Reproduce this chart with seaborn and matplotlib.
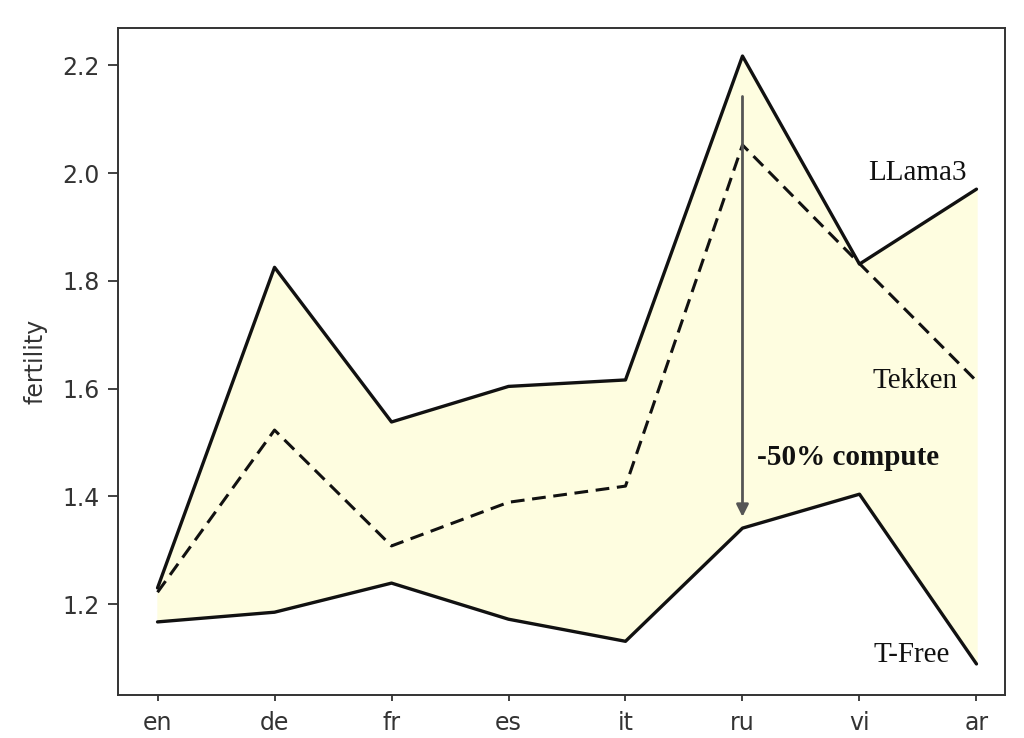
import numpy as np
import pandas as pd
import matplotlib
matplotlib.use("Agg")
import matplotlib.pyplot as plt
import seaborn as sns

languages = ["en", "de", "fr", "es", "it", "ru", "vi", "ar"]
llama3 = [1.230, 1.825, 1.538, 1.604, 1.616, 2.217, 1.831, 1.970]
tekken = [1.222, 1.523, 1.308, 1.389, 1.419, 2.052, 1.832, 1.614]
tfree = [1.167, 1.185, 1.239, 1.172, 1.131, 1.341, 1.404, 1.089]

sns.set_style("ticks")
plt.rcParams["font.family"] = ["DejaVu Sans"]

x = np.arange(len(languages))
df = pd.DataFrame({"x": x, "LLama3": llama3, "Tekken": tekken, "T-Free": tfree})

fig = plt.figure(figsize=(10.24, 7.38), dpi=100)
ax = fig.add_axes([0.115, 0.058, 0.866, 0.904])

#---------shaded band between the two solid curves
ax.fill_between(x, df["T-Free"], df["LLama3"], color="#fefde0", zorder=1)

sns.lineplot(data=df, x="x", y="LLama3", color="#111111", lw=2.4, ax=ax, zorder=3)
sns.lineplot(data=df, x="x", y="T-Free", color="#111111", lw=2.4, ax=ax, zorder=3)
sns.lineplot(data=df, x="x", y="Tekken", color="#111111", lw=2.2, ax=ax, zorder=3,
             linestyle=(0, (4.5, 2.5)))

#----------arrow showing the compute saving
ax.annotate("", xy=(5, 1.362), xytext=(5, 2.142),
            arrowprops=dict(arrowstyle="-|>", color="#555555", lw=2.0,
                            mutation_scale=18, shrinkA=0, shrinkB=0), zorder=4)

serif = ["Liberation Serif", "DejaVu Serif"]
ax.text(6.92, 2.0, "LLama3", ha="right", va="center", fontsize=21, family=serif, color="#111111")
ax.text(6.84, 1.614, "Tekken", ha="right", va="center", fontsize=21, family=serif, color="#111111")
ax.text(6.77, 1.105, "T-Free", ha="right", va="center", fontsize=21, family=serif, color="#111111")
ax.text(5.12, 1.472, "-50% compute", ha="left", va="center", fontsize=21, family=serif,
        fontweight="bold", color="#111111")

ax.set_xlim(-0.34, 7.24)
ax.set_ylim(1.031, 2.269)
ax.set_xticks(x)
ax.set_xticklabels(languages)
ax.set_yticks([1.2, 1.4, 1.6, 1.8, 2.0, 2.2])
ax.set_xlabel("")
ax.set_ylabel("fertility", fontsize=17, color="#333333")
ax.yaxis.set_label_coords(-0.079, 0.5)
ax.tick_params(labelsize=17, colors="#333333", width=1.3)
ax.tick_params(axis="y", length=7, pad=6)
ax.tick_params(axis="x", length=4.5, pad=7)
for s in ax.spines.values():
    s.set_visible(True)
    s.set_color("#333333")
    s.set_linewidth(1.4)

fig.savefig("out.png", dpi=100)
